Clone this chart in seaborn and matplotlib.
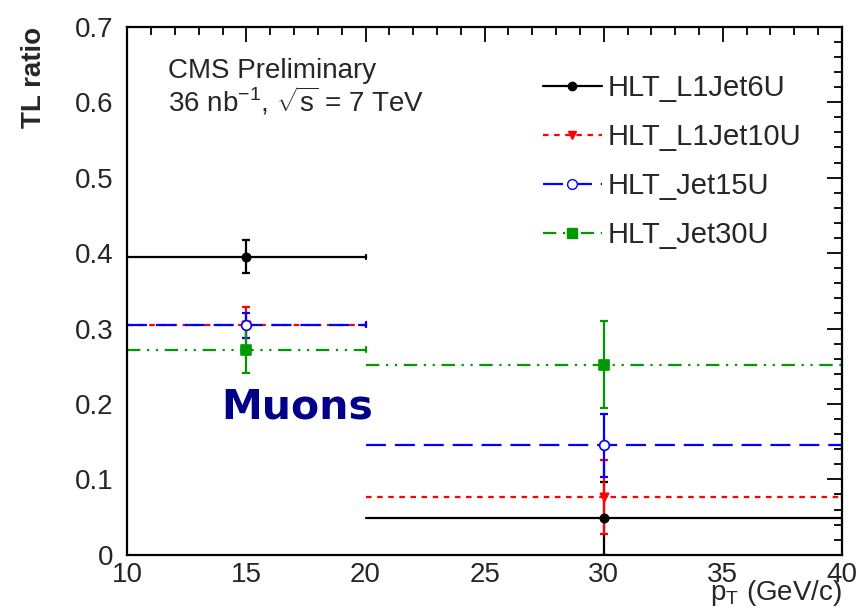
import matplotlib
matplotlib.use("Agg")
import matplotlib.pyplot as plt
from matplotlib.lines import Line2D
from matplotlib.ticker import MultipleLocator
import numpy as np
import pandas as pd
import seaborn as sns

# Bin centres and half-widths in pT (GeV/c)
bin_centers = [15, 30]
bin_halfwidths = [5, 10]

triggers = ["HLT_L1Jet6U", "HLT_L1Jet10U", "HLT_Jet15U", "HLT_Jet30U"]

# Tight/loose ratio per trigger, with asymmetric errors
ratio_l1jet6u = [0.395, 0.049]
err_lo_l1jet6u = [0.022, 0.049]
err_hi_l1jet6u = [0.023, 0.047]

ratio_l1jet10u = [0.305, 0.077]
err_lo_l1jet10u = [0.030, 0.050]
err_hi_l1jet10u = [0.024, 0.049]

ratio_jet15u = [0.305, 0.145]
err_lo_jet15u = [0.018, 0.042]
err_hi_jet15u = [0.016, 0.042]

ratio_jet30u = [0.272, 0.252]
err_lo_jet30u = [0.031, 0.057]
err_hi_jet30u = [0.036, 0.058]

ratios = [ratio_l1jet6u, ratio_l1jet10u, ratio_jet15u, ratio_jet30u]
errs_lo = [err_lo_l1jet6u, err_lo_l1jet10u, err_lo_jet15u, err_lo_jet30u]
errs_hi = [err_hi_l1jet6u, err_hi_l1jet10u, err_hi_jet15u, err_hi_jet30u]

colors = ["black", "red", "blue", "#009900"]
linestyles = ["-", (0, (2.5, 2.5)), (0, (9, 4)), (0, (6, 3, 1, 3, 1, 3))]
markers = ["o", "v", "o", "s"]
facecolors = ["black", "red", "white", "#009900"]
marker_sizes = [6, 6, 7, 6.5]

rows = []
for name, r, lo, hi in zip(triggers, ratios, errs_lo, errs_hi):
    for c, w, v, l, h in zip(bin_centers, bin_halfwidths, r, lo, hi):
        rows.append(dict(trigger=name, pt=c, hw=w, ratio=v, lo=l, hi=h))
df = pd.DataFrame(rows)

sns.set_style("white")
plt.rcParams["font.family"] = ["Liberation Sans", "DejaVu Sans"]
plt.rcParams["mathtext.fontset"] = "custom"
plt.rcParams["mathtext.rm"] = "Liberation Sans"

fig = plt.figure(figsize=(8.6, 6.09), dpi=100)
ax = fig.add_axes([0.148, 0.089, 0.831, 0.867])

handles = []
for i, name in enumerate(triggers):
    sub = df[df.trigger == name]
    # horizontal bin-width bars in the series line style
    for _, row in sub.iterrows():
        ax.plot([row.pt - row.hw, row.pt + row.hw], [row.ratio, row.ratio],
                color=colors[i], linestyle=linestyles[i], lw=1.6, zorder=2)
        ax.plot([row.pt + row.hw] * 2, [row.ratio - 0.003, row.ratio + 0.003],
                color=colors[i], lw=1.6, zorder=2)
    # vertical statistical errors
    ax.errorbar(sub.pt, sub.ratio, yerr=[sub.lo, sub.hi], fmt="none",
                ecolor=colors[i], elinewidth=1.6, capsize=3, capthick=1.6,
                linestyle=linestyles[i], zorder=3)
    sns.scatterplot(data=sub, x="pt", y="ratio", ax=ax, marker=markers[i],
                    s=marker_sizes[i] ** 2, color=facecolors[i],
                    edgecolor=colors[i], linewidth=1.2, zorder=4, legend=False)
    handles.append(Line2D([0], [0], color=colors[i], linestyle=linestyles[i], lw=1.6,
                          marker=markers[i], markersize=marker_sizes[i],
                          markerfacecolor=facecolors[i], markeredgecolor=colors[i]))

ax.legend(handles, triggers, loc="upper left", bbox_to_anchor=(0.582, 0.91),
          frameon=False, fontsize=21, handlelength=2.0, labelspacing=0.72,
          handletextpad=0.2, borderpad=0, borderaxespad=0)

ax.set_xlim(10, 40)
ax.set_ylim(0, 0.7)
ax.xaxis.set_major_locator(MultipleLocator(5))
ax.xaxis.set_minor_locator(MultipleLocator(1))
ax.yaxis.set_major_locator(MultipleLocator(0.1))
ax.yaxis.set_minor_locator(MultipleLocator(0.02))
ax.set_yticks(np.arange(0, 0.71, 0.1))
ax.set_yticklabels(["0", "0.1", "0.2", "0.3", "0.4", "0.5", "0.6", "0.7"])
ax.tick_params(which="both", direction="in", top=True, right=True, labelsize=20,
               width=1.3, color="black")
ax.tick_params(which="major", length=11)
ax.tick_params(which="minor", length=6)
ax.tick_params(axis="x", pad=5)
ax.tick_params(axis="y", pad=10)
for sp in ax.spines.values():
    sp.set_linewidth(1.6)
    sp.set_color("black")

ax.set_xlabel("p$_{\\mathregular{T}}$ (GeV/c)", fontsize=20, loc="right", labelpad=-7)
ax.set_ylabel("TL ratio", fontsize=20, fontweight="bold", loc="top", labelpad=20)

ax.text(11.72, 0.642, "CMS Preliminary", fontsize=20, va="center")
ax.text(11.72, 0.602, "36 nb$^{\\mathregular{-1}}$, $\\sqrt{\\mathregular{s}}$ = 7 TeV",
        fontsize=20, va="center")
ax.text(13.95, 0.195, "Muons", fontsize=29.5, fontweight="bold", color="#000088",
        va="center", family="DejaVu Sans")

fig.savefig("out.png", dpi=100)
